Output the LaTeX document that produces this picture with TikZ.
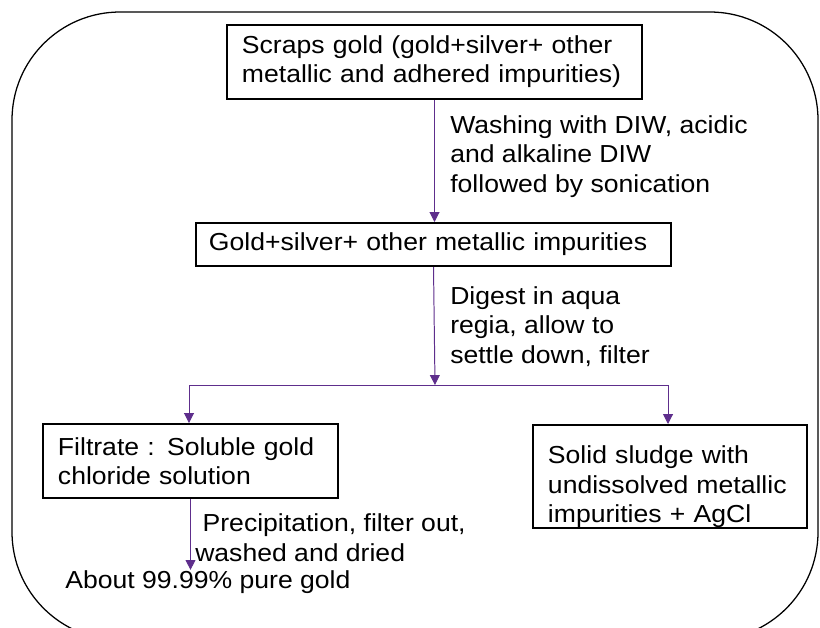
\documentclass[tikz,border=0pt]{standalone}
\usepackage{fontspec}
\setmainfont{Liberation Sans}[FakeStretch=1.08]
\usetikzlibrary{arrows.meta}
\definecolor{flowpurple}{RGB}{94,46,140}

\begin{document}
\begin{tikzpicture}[x=0.025cm,y=-0.025cm,
    box/.style={draw,line width=1.4pt,align=left,inner ysep=0pt,inner xsep=0.375cm,
      font=\fontsize{17.5}{20.8}\selectfont},
    note/.style={align=left,inner sep=0pt,anchor=base west,
      font=\fontsize{17.5}{20.8}\selectfont},
    flow/.style={draw=flowpurple,line width=0.7pt,-{Triangle[width=7pt,length=7pt]}},
    split/.style={draw=flowpurple,line width=0.7pt}]
    \clip (0,0) rectangle (820,627);
    \draw[line width=0.9pt,rounded corners=2.7cm] (12,12) rectangle (818,640);

    \node[box,text width=9.625cm,minimum height=1.85cm] (scrap) at (434.5,62)
      {Scraps gold (gold+silver+ other\\metallic and adhered impurities)};
    \node[box,inner xsep=0.325cm,text width=11.225cm,minimum height=1.075cm] (clean) at (433.5,244.5)
      {Gold+silver+ other metallic impurities};
    \node[box,text width=6.625cm,minimum height=1.85cm] (filtrate) at (190.5,461)
      {Filtrate : Soluble gold\\chloride solution};
    \node[box,text width=6.1cm,minimum height=2.575cm] (sludge) at (670,476.5)
      {\rule{0pt}{0.96cm}Solid sludge with\\undissolved metallic\\impurities + AgCl};

    \node[note] (washlbl) at (450,192)
      {Washing with DIW, acidic\\and alkaline DIW\\followed by sonication};
    \node[note] (digestlbl) at (450,363)
      {Digest in aqua\\regia, allow to\\settle down, filter};
    \node[note] (preciplbl) at (195,561) {\ Precipitation, filter out,\\washed and dried};
    \node[note] (gold) at (65,588) {About 99.99\% pure gold};

    \coordinate (fork) at (435,385);
    \coordinate (forkleft) at (189,385);
    \coordinate (forkright) at (668,385);

    \draw[flow] (scrap.south) -- (scrap.south |- clean.north);
    \draw[flow] (clean.south) -- (fork);
    \draw[split] (forkleft) -- (forkright);
    \draw[flow] (forkleft) -- (forkleft |- filtrate.north);
    \draw[flow] (forkright) -- (forkright |- sludge.north);
    \draw[flow] (filtrate.south) -- (filtrate.south |- gold.north);
\end{tikzpicture}
\end{document}
